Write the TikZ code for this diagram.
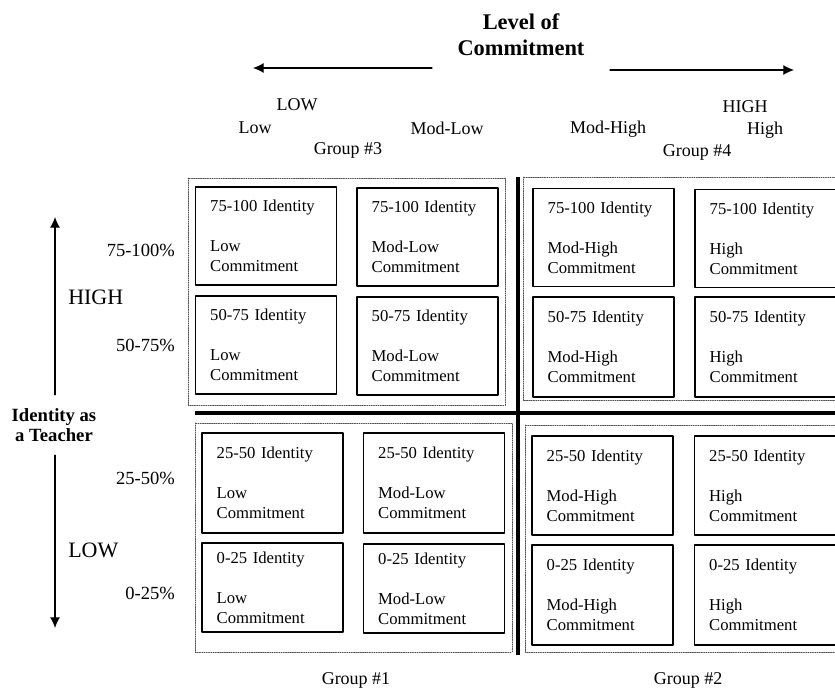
\documentclass[tikz,border=0pt]{standalone}
\usepackage{fontspec}
\setmainfont{Liberation Serif}
\usepackage{tikz}
\usetikzlibrary{positioning}
\usetikzlibrary{calc}
\usetikzlibrary{arrows.meta, positioning}

\begin{document}
\begin{tikzpicture}[x=0.75pt, y=-0.75pt, line cap=round, line join=round,
    cell/.style={draw, line width=1.1pt, text width=83.75pt, inner xsep=11pt,
        minimum height=73.5pt, align=left, font=\fontsize{12.5}{15}\selectfont},
    lbl/.style={inner sep=0pt, font=\fontsize{13.5}{16}\selectfont},
    grp/.style={densely dotted, line width=0.7pt, black!70},
    divider/.style={line width=3.5pt, line cap=butt},
    axis/.style={line width=0.9pt, -{Latex[length=8pt, width=7.5pt]}}]
            % page frame
            \path[use as bounding box, clip] (0,0) rectangle (835,692);

            % level of commitment (horizontal axis)
            \node[align=center, font=\bfseries\fontsize{16.8}{19.5}\selectfont] (title) at (521,35) {Level of\\Commitment};
            \coordinate (leftstart) at (432,68);
            \coordinate (lefttip) at (253,68);
            \coordinate (rightstart) at (610,70);
            \coordinate (righttip) at (794,70);
            \draw[axis] (leftstart) -- (lefttip);
            \draw[axis] (rightstart) -- (righttip);

            % column labels
            \node[lbl] (lowtop) at (297,105) {LOW};
            \node[lbl] (lowcol) at (255,128) {Low};
            \node[lbl] (grp3) at (348,150) {Group \#3};
            \node[lbl] (modlow) at (447,128) {Mod-Low};
            \node[lbl] (modhigh) at (608,129) {Mod-High};
            \node[lbl] (hightop) at (745,107) {HIGH};
            \node[lbl] (highcol) at (765,130) {High};
            \node[lbl] (grp4) at (697,152) {Group \#4};

            % identity as a teacher (vertical axis)
            \node[align=center, inner ysep=10pt, font=\bfseries\fontsize{14}{15}\selectfont] (identity) at (54,425) {Identity as\\a Teacher};
            \coordinate (idtop) at (55,217);
            \coordinate (idbot) at (55,628);
            \draw[axis] (identity.north -| idtop) -- (idtop);
            \draw[axis] (identity.south -| idbot) -- (idbot);
            \node[lbl, anchor=west, font=\fontsize{16.5}{18}\selectfont] (highrow) at (68,297) {HIGH};
            \node[lbl, anchor=west, font=\fontsize{16.5}{18}\selectfont] (lowrow) at (68,550) {LOW};

            % row labels
            \node[lbl, anchor=east, font=\fontsize{13.9}{16}\selectfont] (p75) at (175,250) {75-100\%};
            \node[lbl, anchor=east, font=\fontsize{13.9}{16}\selectfont] (p50) at (175,345) {50-75\%};
            \node[lbl, anchor=east, font=\fontsize{13.9}{16}\selectfont] (p25) at (175,478) {25-50\%};
            \node[lbl, anchor=east, font=\fontsize{13.9}{16}\selectfont] (p0) at (175,593) {0-25\%};

            % group frames and dividers
            \draw[grp] (188,178) rectangle (505,405);
            \draw[grp] (523,177) rectangle (845,400);
            \draw[grp] (195,423) rectangle (512,652);
            \draw[grp] (525,425) rectangle (845,652);
            \draw[divider] (195,413) -- (850,413);
            \draw[divider] (518,177) -- (518,655);

            % group #3 cells
            \node[cell] (b31) at (266,236) {75-100 Identity\\[15pt]Low\\Commitment};
            \node[cell] (b32) at (427.5,237) {75-100 Identity\\[15pt]Mod-Low\\Commitment};
            \node[cell] (b33) at (266,345) {50-75 Identity\\[15pt]Low\\Commitment};
            \node[cell] (b34) at (427.5,346) {50-75 Identity\\[15pt]Mod-Low\\Commitment};

            % group #4 cells
            \node[cell] (b41) at (603.5,237.5) {75-100 Identity\\[15pt]Mod-High\\Commitment};
            \node[cell] (b42) at (765.5,238.5) {75-100 Identity\\[15pt]High\\Commitment};
            \node[cell, minimum height=75pt] (b43) at (603.5,347) {50-75 Identity\\[15pt]Mod-High\\Commitment};
            \node[cell, minimum height=75pt] (b44) at (765.5,347) {50-75 Identity\\[15pt]High\\Commitment};

            % group #1 cells
            \node[cell, minimum height=75pt] (b11) at (272.5,483) {25-50 Identity\\[15pt]Low\\Commitment};
            \node[cell, minimum height=75pt] (b12) at (434,483) {25-50 Identity\\[15pt]Mod-Low\\Commitment};
            \node[cell, minimum height=66.75pt] (b13) at (272.5,587.5) {0-25 Identity\\[15pt]Low\\Commitment};
            \node[cell, minimum height=66.75pt] (b14) at (434,588.5) {0-25 Identity\\[15pt]Mod-Low\\Commitment};

            % group #2 cells
            \node[cell, minimum height=74.25pt] (b21) at (602.5,485.5) {25-50 Identity\\[15pt]Mod-High\\Commitment};
            \node[cell, minimum height=74.25pt] (b22) at (765,485.5) {25-50 Identity\\[15pt]High\\Commitment};
            \node[cell, minimum height=75pt] (b23) at (602.5,595) {0-25 Identity\\[15pt]Mod-High\\Commitment};
            \node[cell, minimum height=75pt] (b24) at (765,595) {0-25 Identity\\[15pt]High\\Commitment};

            % group names below
            \node[lbl] (grp1) at (356,680) {Group \#1};
            \node[lbl] (grp2) at (688,680) {Group \#2};
        \end{tikzpicture}
\end{document}
